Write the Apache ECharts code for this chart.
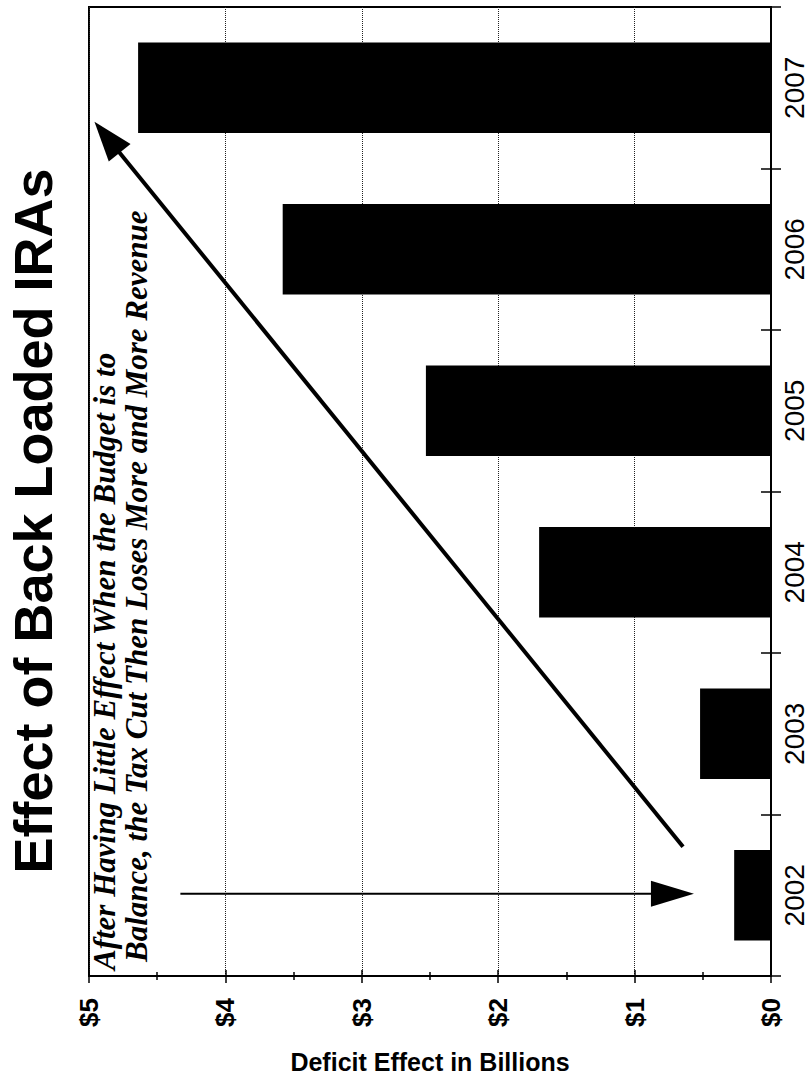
<!DOCTYPE html>
<html>
<head>
<meta charset="utf-8">
<script src="https://cdn.jsdelivr.net/npm/echarts@6/dist/echarts.min.js"></script>
<style>
  html, body { margin: 0; padding: 0; background: #fff; }
  #chart { width: 810px; height: 1082px; }
</style>
</head>
<body>
<div id="chart"></div>
<script>
// ---- data ----
const years = ['2002', '2003', '2004', '2005', '2006', '2007'];
const deficitBillions = [0.27, 0.52, 1.70, 2.53, 3.58, 4.64];
const valueTickLabels = ['$0', '$1', '$2', '$3', '$4', '$5'];
const titleText = 'Effect of Back Loaded IRAs';
const axisTitle = 'Deficit Effect in Billions';
const noteLines = [
  'After Having Little Effect When the Budget is to',
  'Balance, the Tax Cut Then Loses More and More Revenue'
];
// annotation arrows in data space: [value, category position]
const trendArrowFrom = [0.645, 0.30];
const trendArrowTo = [4.96, 4.79];
const pointerArrowFrom = [4.33, 0.01];
const pointerArrowTo = [0.565, 0.01];

const chart = echarts.init(document.getElementById('chart'), null, { renderer: 'svg' });

const GRID = { left: 89, right: 39, top: 7, bottom: 106 };

const valueAxisBase = {
  type: 'value', min: 0, max: 5, interval: 1, inverse: true, position: 'bottom'
};

const option = {
  backgroundColor: '#fff',
  animation: false,
  grid: Object.assign({ show: true, borderColor: '#000', borderWidth: 2, containLabel: false }, GRID),
  xAxis: [
    Object.assign({}, valueAxisBase, {
      name: axisTitle,
      nameLocation: 'middle',
      nameGap: 73,
      nameTextStyle: { fontFamily: 'Liberation Sans, Arial, sans-serif', fontWeight: 'bold', fontSize: 25, color: '#000' },
      axisLine: { show: true, onZero: false, lineStyle: { color: '#000', width: 2 } },
      axisTick: { show: true, length: 7, lineStyle: { color: '#000', width: 1.5 } },
      minorTick: { show: true, splitNumber: 2, length: 4, lineStyle: { color: '#000', width: 1.5 } },
      axisLabel: {
        rotate: 90, margin: 22,
        formatter: v => valueTickLabels[Math.round(v)],
        fontFamily: 'Liberation Sans, Arial, sans-serif', fontWeight: 'bold', fontSize: 26, color: '#000'
      },
      splitLine: { show: true, lineStyle: { color: '#222', type: 'dotted', width: 1 } }
    }),
    Object.assign({}, valueAxisBase, {
      axisLine: { show: false, onZero: false },
      axisTick: { show: true, inside: true, length: 6, lineStyle: { color: '#000', width: 1.5 } },
      minorTick: { show: true, splitNumber: 2, length: 4, lineStyle: { color: '#000', width: 1.5 } },
      axisLabel: { show: false },
      splitLine: { show: false }
    })
  ],
  yAxis: [
    {
      type: 'category', data: years, position: 'right',
      axisLine: { show: true, onZero: false, lineStyle: { color: '#000', width: 2 } },
      axisTick: { show: true, length: 10, lineStyle: { color: '#000', width: 1.5 } },
      axisLabel: {
        rotate: 90, margin: 9,
        fontFamily: 'Liberation Sans, Arial, sans-serif', fontSize: 28, color: '#000'
      },
      splitLine: { show: false }
    },
    {
      type: 'category', data: years, position: 'right',
      axisLine: { show: false, onZero: false },
      axisTick: { show: true, inside: true, length: 10, lineStyle: { color: '#000', width: 1.5 } },
      axisLabel: { show: false },
      splitLine: { show: false }
    },
    {
      // hidden helper axis for placing annotations between category slots
      type: 'value', min: -0.5, max: 5.5, show: false, position: 'left',
      axisLine: { onZero: false }
    }
  ],
  series: [
    {
      type: 'bar',
      data: deficitBillions,
      xAxisIndex: 0, yAxisIndex: 0,
      barCategoryGap: '44%',
      itemStyle: { color: '#000' }
    }
  ]
};

chart.setOption(option);

function px(pt) {
  return [
    chart.convertToPixel({ xAxisIndex: 0 }, pt[0]),
    chart.convertToPixel({ yAxisIndex: 2 }, pt[1])
  ];
}

function arrow(fromData, toData, lineW, headLen, headHalf) {
  const a = px(fromData), b = px(toData);
  const dx = b[0] - a[0], dy = b[1] - a[1];
  const L = Math.sqrt(dx * dx + dy * dy);
  const ux = dx / L, uy = dy / L;
  const base = [b[0] - ux * headLen, b[1] - uy * headLen];
  const nx = -uy, ny = ux;
  return [
    {
      type: 'line',
      shape: { x1: a[0], y1: a[1], x2: base[0] + ux * 2, y2: base[1] + uy * 2 },
      style: { stroke: '#000', lineWidth: lineW },
      z: 100
    },
    {
      type: 'polygon',
      shape: { points: [b, [base[0] + nx * headHalf, base[1] + ny * headHalf], [base[0] - nx * headHalf, base[1] - ny * headHalf]] },
      style: { fill: '#000' },
      z: 100
    }
  ];
}

const graphics = [
  {
    type: 'text',
    x: 33, y: 521,
    rotation: Math.PI / 2,
    style: {
      text: titleText,
      font: 'bold 54px "Liberation Sans", Arial, sans-serif',
      fill: '#000',
      textAlign: 'center',
      textVerticalAlign: 'middle'
    },
    z: 100
  },
  {
    type: 'text',
    x: 104, y: 970,
    rotation: Math.PI / 2,
    style: {
      text: noteLines[0],
      font: 'italic bold 31px "Liberation Serif", "Times New Roman", serif',
      fill: '#000',
      textAlign: 'left',
      textVerticalAlign: 'middle'
    },
    z: 100
  },
  {
    type: 'text',
    x: 136, y: 962,
    rotation: Math.PI / 2,
    style: {
      text: noteLines[1],
      font: 'italic bold 31px "Liberation Serif", "Times New Roman", serif',
      fill: '#000',
      textAlign: 'left',
      textVerticalAlign: 'middle'
    },
    z: 100
  }
].concat(
  arrow(trendArrowFrom, trendArrowTo, 4, 40, 14),
  arrow(pointerArrowFrom, pointerArrowTo, 2, 43, 13)
);

chart.setOption({ graphic: graphics });
</script>
</body>
</html>
